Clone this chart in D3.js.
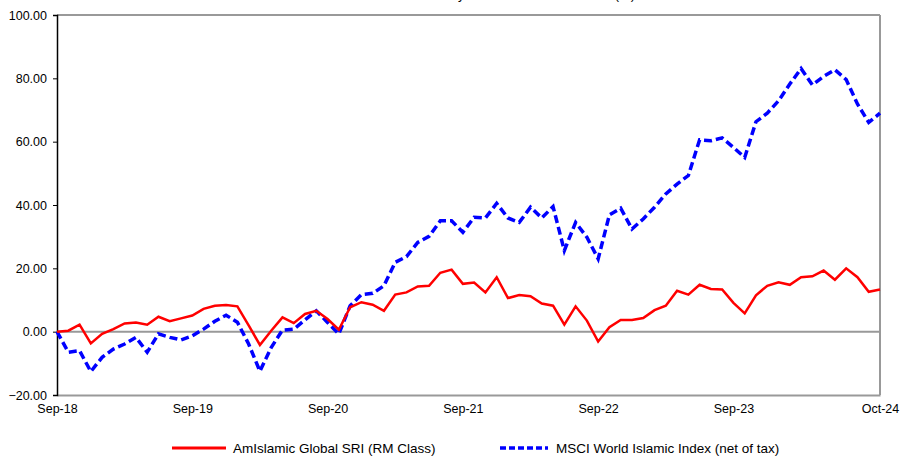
<!DOCTYPE html>
<html lang="en">
<head>
<meta charset="UTF-8"/>
<title>AmIslamic Global SRI vs MSCI World Islamic</title>
<script src="https://d3js.org/d3.v7.min.js"></script>
<style>
body {
  margin: 0;
  background: #fff;
  font-family: 'Liberation Sans', Arial, sans-serif;
}
svg {
  display: block;
}
.tick text {
  font-size: 12.5px;
  fill: #000;
}
text.legend {
  font-size: 13.5px;
  fill: #000;
}
text.title {
  font-size: 13px;
  fill: #000;
}
</style>
</head>
<body>
<svg width="902" height="457"></svg>
<script>
// monthly points, Sep-18 .. Oct-24
const fund = [
  0.0, 0.3, 2.2, -3.7, -0.7, 0.8, 2.6, 2.9, 2.2, 4.7, 3.3, 4.2,
  5.1, 7.2, 8.2, 8.4, 8.0, 2.0, -4.2, 0.3, 4.5, 2.7, 5.6, 6.6,
  4.0, 0.6, 7.7, 9.3, 8.5, 6.6, 11.7, 12.4, 14.3, 14.5, 18.6, 19.6,
  15.1, 15.5, 12.4, 17.2, 10.6, 11.6, 11.2, 8.9, 8.2, 2.2, 8.0, 3.5,
  -3.1, 1.4, 3.7, 3.7, 4.3, 6.8, 8.2, 12.9, 11.7, 14.8, 13.5, 13.3,
  9.1, 5.8, 11.5, 14.5, 15.6, 14.8, 17.2, 17.5, 19.3, 16.4, 20.0, 17.2,
  12.6, 13.3
];
const benchmark = [
  0.0, -6.5, -6.0, -12.6, -8.1, -5.5, -3.9, -1.8, -6.5, -0.7, -1.8, -2.6,
  -1.3, 0.8, 3.3, 5.2, 3.0, -3.9, -12.5, -5.0, 0.5, 0.8, 3.7, 6.6,
  2.9, -0.7, 8.2, 11.7, 12.1, 14.5, 21.9, 23.7, 28.2, 30.1, 35.0, 35.0,
  31.4, 36.1, 35.9, 40.5, 35.9, 34.5, 39.3, 35.9, 39.5, 25.6, 34.5, 29.8,
  23.0, 36.9, 39.0, 32.4, 35.6, 39.3, 43.5, 46.6, 49.3, 60.6, 60.3, 61.2,
  58.2, 55.0, 66.3, 69.0, 72.9, 78.2, 83.1, 77.9, 80.6, 82.7, 79.6, 71.9,
  66.1, 69.0
];
const xTickIdx = [0, 12, 24, 36, 48, 60, 73];
const xTickLabels = ['Sep-18', 'Sep-19', 'Sep-20', 'Sep-21', 'Sep-22', 'Sep-23', 'Oct-24'];
const yTicks = [-20, 0, 20, 40, 60, 80, 100];
const seriesNames = ['AmIslamic Global SRI (RM Class)', 'MSCI World Islamic Index (net of tax)'];

const svg = d3.select('svg');
const plotLeft = 57, plotRight = 880, plotTop = 15, plotBottom = 395;

const x = d3.scaleLinear().domain([0, fund.length - 1]).range([plotLeft, plotRight]);
const y = d3.scaleLinear().domain([-20, 100]).range([plotBottom, plotTop]);

// title: sits above the page edge in the source, only its descenders show
svg.append('text')
  .attr('class', 'title')
  .attr('x', 527)
  .attr('y', -1)
  .attr('text-anchor', 'middle')
  .text('Monthly Cumulative Performance (%)');

// frame: top and right in grey
svg.append('line')
  .attr('x1', plotLeft).attr('x2', plotRight)
  .attr('y1', y(100)).attr('y2', y(100))
  .attr('stroke', '#999').attr('stroke-width', 2);
svg.append('line')
  .attr('x1', plotRight).attr('x2', plotRight)
  .attr('y1', y(100)).attr('y2', y(-20))
  .attr('stroke', '#999').attr('stroke-width', 2);

// x axis
const xAxis = svg.append('g')
  .attr('transform', `translate(0, ${plotBottom})`)
  .call(d3.axisBottom(x)
    .tickValues(xTickIdx)
    .tickSize(0)
    .tickPadding(9)
    .tickFormat((d, i) => xTickLabels[i]));
xAxis.select('.domain').attr('stroke', '#999').attr('stroke-width', 2);

// zero line
svg.append('line')
  .attr('x1', plotLeft).attr('x2', plotRight)
  .attr('y1', y(0)).attr('y2', y(0))
  .attr('stroke', '#999').attr('stroke-width', 2);

// y axis
const yAxis = svg.append('g')
  .attr('transform', `translate(${plotLeft}, 0)`)
  .call(d3.axisLeft(y)
    .tickValues(yTicks)
    .tickSize(4)
    .tickPadding(6)
    .tickFormat(d3.format('.2f')));
yAxis.select('.domain').attr('stroke', '#000').attr('stroke-width', 1.5);
yAxis.selectAll('.tick line').attr('stroke', '#000');

const line = d3.line()
  .x((d, i) => x(i))
  .y(d => y(d));

svg.append('path')
  .datum(benchmark)
  .attr('fill', 'none')
  .attr('stroke', '#0000ff')
  .attr('stroke-width', 3.5)
  .attr('stroke-dasharray', '8 4')
  .attr('d', line);

svg.append('path')
  .datum(fund)
  .attr('fill', 'none')
  .attr('stroke', '#ff0000')
  .attr('stroke-width', 2.5)
  .attr('d', line);

// legend
const ly = 448;
svg.append('line')
  .attr('x1', 172).attr('x2', 226)
  .attr('y1', ly).attr('y2', ly)
  .attr('stroke', '#ff0000').attr('stroke-width', 3);
svg.append('text')
  .attr('class', 'legend')
  .attr('x', 233).attr('y', ly + 5)
  .text(seriesNames[0]);

svg.append('line')
  .attr('x1', 500).attr('x2', 548)
  .attr('y1', ly).attr('y2', ly)
  .attr('stroke', '#0000ff').attr('stroke-width', 3.5)
  .attr('stroke-dasharray', '6 3');
svg.append('text')
  .attr('class', 'legend')
  .attr('x', 556).attr('y', ly + 5)
  .text(seriesNames[1]);
</script>
</body>
</html>
